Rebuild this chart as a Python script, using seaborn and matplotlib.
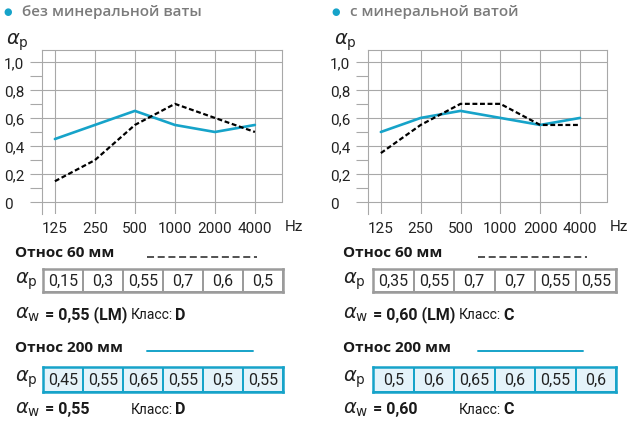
import numpy as np
import pandas as pd
import matplotlib.pyplot as plt
import seaborn as sns
from matplotlib.colors import ListedColormap
from matplotlib.lines import Line2D

# chart values
freqs = ["125", "250", "500", "1000", "2000", "4000"]
left_60 = [0.15, 0.3, 0.55, 0.7, 0.6, 0.5]
left_200 = [0.45, 0.55, 0.65, 0.55, 0.5, 0.55]
right_60 = [0.35, 0.55, 0.7, 0.7, 0.55, 0.55]
right_200 = [0.5, 0.6, 0.65, 0.6, 0.55, 0.6]

titles = ["без минеральной ваты", "с минеральной ватой"]
aw_values = [["0,55 (LM)", "0,55"], ["0,60 (LM)", "0,60"]]
classes = [["D", "D"], ["C", "C"]]

CYAN = "#16a3c9"
FILL = "#e4f3fa"
GRID = "#a8a8a8"
BOX_GRAY = "#9b9b9b"
W, H = 631, 427

sns.set_theme(style="white")
plt.rcParams["font.family"] = ["Roboto", "DejaVu Sans"]
plt.rcParams["mathtext.fontset"] = "dejavusans"

fig = plt.figure(figsize=(W / 100, H / 100), dpi=100)


def fx(x):
    return x / W


def fy(y):
    return 1 - y / H


def comma(v):
    return f"{v:g}".replace(".", ",")


def draw_chart(x0, x1, dashed, solid, title, dx):
    ax = fig.add_axes([fx(x0), fy(215), fx(x1) - fx(x0), (215 - 50.7) / H])
    pos = np.arange(len(freqs))
    df = pd.DataFrame({"pos": pos, "d": dashed, "s": solid})
    sns.lineplot(data=df, x="pos", y="d", ax=ax, color="black", lw=1.6,
                 linestyle=(0, (2.2, 1.2)), zorder=4)
    sns.lineplot(data=df, x="pos", y="s", ax=ax, color=CYAN, lw=1.9, zorder=3)
    ax.set_xlim(-0.33, 5.67)
    ax.set_ylim(-0.083, 1.085)
    ax.set_xticks(pos)
    ax.set_xticklabels(freqs, fontsize=11)
    ticks = [0, 0.2, 0.4, 0.6, 0.8, 1.0]
    ax.set_yticks(ticks)
    ax.set_yticklabels(["0"] + [comma(v) for v in ticks[1:-1]] + ["1,0"],
                       fontsize=11, ha="left")
    ax.set_yticks([0.1, 0.3, 0.5, 0.7, 0.9], minor=True)
    ax.tick_params(axis="y", which="both", direction="out", length=8.6, width=0.8,
                   color=GRID, pad=18.5, left=True, labelcolor="#222222")
    ax.tick_params(axis="x", length=0, pad=5, labelcolor="#222222")
    ax.grid(True, axis="both", which="major", color=GRID, lw=0.8)
    ax.set_xlabel("")
    ax.set_ylabel("")
    for s in ["left", "top", "right"]:
        ax.spines[s].set_color(GRID)
        ax.spines[s].set_linewidth(0.8)
    ax.spines["bottom"].set_visible(False)
    ax.spines["right"].set_bounds(0, 1.085)
    # axis captions
    fig.text(fx(x1 + 3), fy(227), "Hz", fontsize=11, va="center", color="#222222")
    fig.text(fx(dx + 6), fy(42), r"$\alpha_{\rm p}$", fontsize=14, va="center", color="#222222")
    # title with bullet
    fig.text(fx(dx + 3), fy(12), "●", fontsize=7, color=CYAN, va="center",
             family=["DejaVu Sans"])
    fig.text(fx(dx + 22), fy(12), title, fontsize=11, color="#7b7b7b", va="center",
             family=["Open Sans", "DejaVu Sans"], fontweight="semibold")
    return ax


def draw_row(x0, x1, y0, y1, vals, fill, edge):
    ax = fig.add_axes([fx(x0), fy(y1), fx(x1) - fx(x0), (y1 - y0) / H])
    labels = np.array([[comma(v) for v in vals]])
    sns.heatmap(np.array([vals]), annot=labels, fmt="", cmap=ListedColormap([fill]),
                cbar=False, linewidths=1.2, linecolor=edge, ax=ax,
                annot_kws={"fontsize": 11.5, "color": "#222222"})
    ax.set_xticks([])
    ax.set_yticks([])
    for s in ax.spines.values():
        s.set_visible(True)
        s.set_color(edge)
        s.set_linewidth(1.8)


panels = [
    (41.7, 281.7, left_60, left_200, 0, 43, 283, 147, 257),
    (367.7, 606.7, right_60, right_200, 328, 373, 616, 478, 587),
]

for i, (x0, x1, d60, d200, dx, bx0, bx1, lx0, lx1) in enumerate(panels):
    draw_chart(x0, x1, d60, d200, titles[i], dx)
    tx = dx + 15
    rows = [(253, 258, 281, 315, d60, "white", BOX_GRAY, "Относ 60 мм", 270, 293),
            (348, 352, 379, 410, d200, FILL, CYAN, "Относ 200 мм", 368, 393)]
    for j, (yh, yl, yp, yw, vals, fill, edge, head, r0, r1) in enumerate(rows):
        fig.text(fx(tx), fy(yh), head, fontsize=11, fontweight="bold",
                 family=["Open Sans", "DejaVu Sans"], va="center", color="#1a1a1a")
        if j == 0:
            fig.add_artist(Line2D([fx(lx0), fx(lx1)], [fy(yl), fy(yl)], color="#222222",
                                  lw=1.1, linestyle=(0, (4.6, 2.4))))
        else:
            fig.add_artist(Line2D([fx(lx0), fx(lx1 - 4)], [fy(yl), fy(yl)], color=CYAN, lw=1.4))
        fig.text(fx(tx), fy(yp), r"$\alpha_{\rm p}$", fontsize=14, va="center", color="#222222")
        draw_row(bx0, bx1, r0, r1, vals, fill, edge)
        fig.text(fx(tx), fy(yw), r"$\alpha_{\rm w}$", fontsize=14, va="center", color="#222222")
        fig.text(fx(tx + 30), fy(yw), "= " + aw_values[i][j], fontsize=11.5, fontweight="bold",
                 va="center", color="#1a1a1a")
        fig.text(fx(tx + 116), fy(yw), "Класс:", fontsize=10, va="center", color="#1a1a1a")
        fig.text(fx(tx + 160), fy(yw), classes[i][j], fontsize=11.5, fontweight="bold",
                 va="center", color="#1a1a1a")

fig.savefig("out.png", dpi=100)
